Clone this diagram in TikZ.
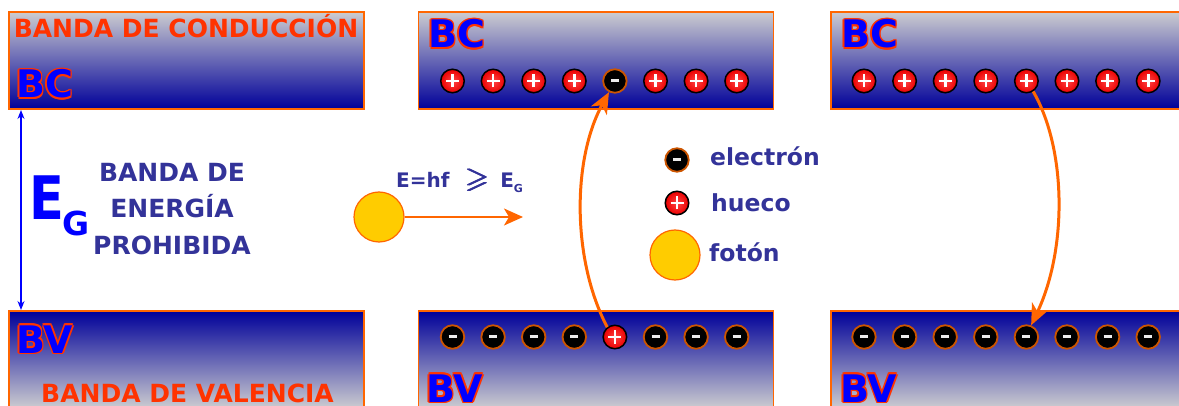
\documentclass[tikz,border=0pt]{standalone}
\usepackage{fontspec}
\usepackage{amssymb}
\usepackage{graphicx}
\setmainfont{DejaVu Sans}
\usetikzlibrary{arrows.meta}
\definecolor{bandorange}{RGB}{255,102,0}
\definecolor{txtorange}{RGB}{255,51,0}
\definecolor{navy}{RGB}{0,0,153}
\definecolor{bandgray}{RGB}{204,204,208}
\definecolor{slate}{RGB}{51,51,153}
\definecolor{lblblue}{RGB}{0,0,255}
\definecolor{ebord}{RGB}{204,85,0}
\definecolor{photon}{RGB}{255,204,0}
\definecolor{holered}{RGB}{235,0,0}
\definecolor{holelight}{RGB}{255,70,70}

\newcommand\fs[1]{\fontsize{#1}{#1}\selectfont\bfseries}
\newcommand\geqone{\scalebox{1.45}{$\geqslant$}}
\newcommand\boldgeq{\rlap{\geqone}\rlap{\raisebox{0.6pt}{\hspace{0.6pt}\geqone}}\rlap{\hspace{1.2pt}\geqone}\rlap{\raisebox{0.6pt}{\hspace{1.8pt}\geqone}}\hspace{2.2pt}\geqone}

\newcommand\outlinelabel[3]{%
  \foreach \dx/\dy in {1.5/0,-1.5/0,0/1.5,0/-1.5,1.1/1.1,1.1/-1.1,-1.1/1.1,-1.1/-1.1}{
    \node[biglbl, text=txtorange, xshift=\dx pt, yshift=\dy pt] at (#2) {#3};
  }
  \node[biglbl, text=lblblue] (#1) at (#2) {#3};
}

\tikzset{
  biglbl/.style={anchor=base west, inner sep=0pt, font=\fs{38}},
  bandtop/.style={rectangle, draw=bandorange, line width=1.5pt, inner sep=0pt,
    minimum width=355pt, minimum height=97pt, top color=bandgray, bottom color=navy},
  bandbot/.style={rectangle, draw=bandorange, line width=1.5pt, inner sep=0pt,
    minimum width=355pt, minimum height=97pt, top color=navy, bottom color=bandgray},
  hole/.style={circle, inner sep=0pt, minimum size=23.5pt, draw=black, line width=1.5pt,
    inner color=holelight, outer color=holered,
    path picture={\draw[white, line width=2.6pt]
      ([xshift=-6.5pt]path picture bounding box.center) -- ([xshift=6.5pt]path picture bounding box.center)
      ([yshift=-6.5pt]path picture bounding box.center) -- ([yshift=6.5pt]path picture bounding box.center);}},
  electron/.style={circle, inner sep=0pt, minimum size=23.5pt, fill=black, draw=ebord, line width=1.8pt,
    path picture={\draw[white!85!gray, line width=3pt]
      ([xshift=-4pt]path picture bounding box.center) -- ([xshift=4pt]path picture bounding box.center);}},
  photonball/.style={circle, inner sep=0pt, minimum size=50pt, fill=photon, draw=bandorange, line width=1.2pt},
  bandtxt/.style={anchor=base, inner sep=0pt, text=txtorange, font=\fs{25}},
  gaptxt/.style={anchor=base, inner sep=0pt, text=slate, font=\fs{25}},
  legtxt/.style={anchor=base west, inner sep=0pt, text=slate, font=\fs{23.5}},
  curvarrow/.style={draw=bandorange, line width=3pt, -{Stealth[length=21pt,width=18pt,inset=6pt]}},
  photarrow/.style={draw=bandorange, line width=1.5pt, -{Stealth[length=19pt,width=17pt,inset=5pt]}},
  egarrow/.style={draw=lblblue, line width=1.3pt, {Stealth[length=9pt,width=7pt]}-{Stealth[length=9pt,width=7pt]}}
}

\begin{document}
\begin{tikzpicture}[x=1pt, y=-1pt]
\useasboundingbox (0,0) rectangle (1179,406);
\clip (0,0) rectangle (1179,406);

% bands
\node[bandtop] (cb1) at (186.5,60.5) {};
\node[bandbot] (vb1) at (186.5,359.5) {};
\node[bandtop] (cb2) at (596,60.5) {};
\node[bandbot] (vb2) at (596,359.5) {};
\node[bandtop] (cb3) at (1008.5,60.5) {};
\node[bandbot] (vb3) at (1008.5,359.5) {};

% band texts
\node[bandtxt] (tcond) at (186,38) {BANDA DE CONDUCCIÓN};
\node[bandtxt] (tval) at (187.5,402) {BANDA DE VALENCIA};
\outlinelabel{bc1}{16,98}{BC}
\outlinelabel{bv1}{16,353}{BV}
\outlinelabel{bc2}{428,48}{BC}
\outlinelabel{bv2}{426,402}{BV}
\outlinelabel{bc3}{841,48}{BC}
\outlinelabel{bv3}{840,402}{BV}

% energy gap
\coordinate (ega) at (21,110);
\coordinate (egb) at (21,310);
\draw[egarrow] (ega) -- (egb);
\node[anchor=base west, inner sep=0pt, text=lblblue, font=\fs{60}, xscale=0.85] (egE) at (29,220) {E};
\node[anchor=base west, inner sep=0pt, text=lblblue, font=\fs{33}] (egG) at (62,236) {G};
\node[gaptxt] (gap1) at (172,182) {BANDA DE};
\node[gaptxt] (gap2) at (172,218) {ENERGÍA};
\node[gaptxt] (gap3) at (172,255) {PROHIBIDA};

% photon
\node[photonball] (ph) at (379,217) {};
\coordinate (phtip) at (523,217);
\draw[photarrow] (ph) -- (phtip);
\node[anchor=base west, inner sep=0pt, text=slate, font=\fs{20}] (eq) at (396,188)
  {E=hf\hspace{15pt}\boldgeq\hspace{11pt}E\raisebox{-5pt}{\fs{11}G}};

% particles
\foreach \i in {0,...,7}{
  \pgfmathsetmacro\xa{452.5+40.6*\i}
  \pgfmathsetmacro\xb{864+40.6*\i}
  \ifnum\i=4
    \node[electron] (t2x\i) at (\xa,81) {};
    \node[hole] (b2x\i) at (\xa,337) {};
  \else
    \node[hole] (t2x\i) at (\xa,81) {};
    \node[electron] (b2x\i) at (\xa,337) {};
  \fi
  \node[hole] (t3x\i) at (\xb,81) {};
  \node[electron] (b3x\i) at (\xb,337) {};
}

% transitions
\draw[curvarrow] (b2x4.128) .. controls (572,260) and (572,160) .. (t2x4.242);
\draw[curvarrow] (t3x4.303) .. controls (1067,150) and (1067,250) .. (b3x4.68);

% legend
\node[electron] (legE) at (677,160) {};
\node[hole] (legH) at (677,203) {};
\node[photonball] (legP) at (675,255) {};
\node[legtxt] (legEt) at (710,166) {electrón};
\node[legtxt] (legHt) at (711,212) {hueco};
\node[legtxt] (legPt) at (709,262) {fotón};
\end{tikzpicture}
\end{document}
